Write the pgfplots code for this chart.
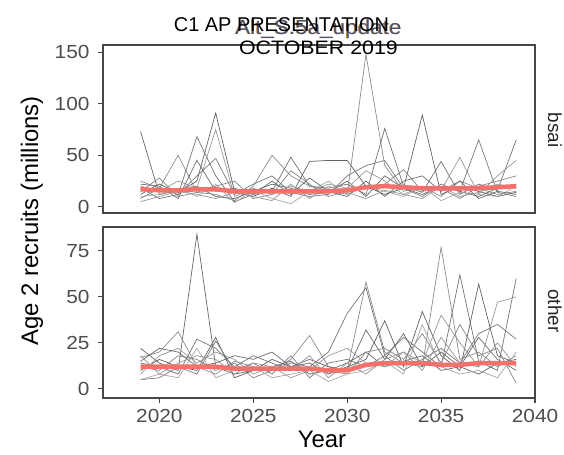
\documentclass[border=0pt]{standalone}
\usepackage{pgfplots}
\pgfplotsset{compat=1.18}
\usepackage{pgfplotstable}
\usepackage{fontspec}
\setmainfont{Liberation Sans}
\newfontfamily\wide[FakeStretch=1.1]{Liberation Sans}
\definecolor{meanred}{RGB}{244,112,106}
\definecolor{ticktxt}{RGB}{77,77,77}
\definecolor{altblue}{RGB}{70,84,118}
\definecolor{altorange}{RGB}{235,150,60}

\pgfplotstableread{
year s1 s2 s3 s4 s5 s6 s7 s8 s9 s10 m
2019 73 25 18 12 20 8 15 10 22 5 17
2020 12 18 8 22 15 18 28 12 20 10 16
2021 16 50 12 14 25 12 10 18 8 15 16
2022 20 14 68 25 18 30 14 10 45 12 17
2023 10 12 30 91 75 47 20 22 15 8 17
2024 8 6 5 15 10 12 25 4 18 14 15
2025 15 20 12 10 18 22 8 16 12 10 15
2026 22 50 15 18 12 30 12 8 25 6 15
2027 18 30 48 10 20 14 35 3 12 22 15
2028 12 20 20 44 15 10 22 15 28 8 15
2029 14 16 18 45 22 12 10 25 15 20 15
2030 25 12 22 45 18 30 15 12 10 14 16
2031 10 148 12 20 35 40 18 20 25 8 19
2032 30 40 76 12 25 45 22 15 10 16 20
2033 18 15 20 18 12 18 36 10 25 12 19
2034 12 20 14 89 20 10 15 20 30 8 18
2035 20 10 44 12 16 22 18 6 15 20 18
2036 15 25 12 20 48 15 8 14 25 10 18
2037 10 18 22 15 12 65 20 12 8 14 18
2038 18 12 16 10 30 14 25 10 15 22 19
2039 22 15 65 14 45 10 30 20 12 18 20
}\bsai

\pgfplotstableread{
year s1 s2 s3 s4 s5 s6 s7 s8 s9 s10 m
2019 22 17 14 10 8 5 12 5 15 18 12
2020 14 20 12 16 18 6 10 8 22 8 12
2021 10 31 8 12 22 12 18 6 20 14 12
2022 84 12 27 10 14 8 16 22 12 18 12
2023 12 8 22 28 20 26 10 6 14 16 12
2024 8 15 12 6 16 10 14 10 18 8 11
2025 10 12 18 10 8 14 6 12 16 14 11
2026 12 10 14 16 12 8 10 6 20 12 11
2027 15 16 10 12 6 18 14 8 12 10 11
2028 8 29 12 14 10 6 12 10 16 18 11
2029 10 12 20 8 18 14 10 4 12 6 10
2030 14 10 41 12 22 16 8 8 10 14 10
2031 20 58 55 16 14 12 20 10 32 8 13
2032 12 20 18 37 12 18 22 15 16 16 14
2033 15 14 28 12 20 10 16 8 30 20 14
2034 18 12 20 42 14 16 30 35 12 10 14
2035 10 77 12 18 40 22 14 12 20 28 13
2036 12 16 62 10 25 14 35 8 12 14 13
2037 8 20 15 57 12 30 18 10 28 12 14
2038 14 12 10 18 47 35 22 6 16 25 14
2039 16 18 60 14 50 27 3 20 10 12 14
}\other

\pgfplotsset{
  panel/.style={
    scale only axis,
    width=432bp,
    xmin=2017, xmax=2040,
    axis line style={draw=black!72, line width=1.1bp},
    tick style={draw=black!72, line width=1.1bp},
    major tick length=5bp,
    tick align=outside,
    tick pos=left,
    ticklabel style={font=\wide\fontsize{19}{19}\selectfont, text=ticktxt},
    yticklabel style={xshift=-5bp},
    xticklabel style={yshift=-3bp},
    /pgf/number format/assume math mode=true,
    clip=true,
  },
  gl/.style={line width=0.7bp, draw=#1},
}

\begin{document}
\begin{tikzpicture}[x=1bp,y=1bp]
\path[use as bounding box] (0,0) rectangle (564,455);

% top panel: bsai
\begin{axis}[panel,
  at={(103bp,242bp)}, anchor=south west,
  height=168bp,
  ymin=-6, ymax=157,
  ytick={0,50,100,150},
  xtick=\empty,
]
\addplot[gl=black!60] table[x=year,y=s1]{\bsai};
\addplot[gl=black!45] table[x=year,y=s2]{\bsai};
\addplot[gl=black!55] table[x=year,y=s3]{\bsai};
\addplot[gl=black!62] table[x=year,y=s4]{\bsai};
\addplot[gl=black!40] table[x=year,y=s5]{\bsai};
\addplot[gl=black!52] table[x=year,y=s6]{\bsai};
\addplot[gl=black!48] table[x=year,y=s7]{\bsai};
\addplot[gl=black!35] table[x=year,y=s8]{\bsai};
\addplot[gl=black!58] table[x=year,y=s9]{\bsai};
\addplot[gl=black!42] table[x=year,y=s10]{\bsai};
\addplot[meanred, line width=4.5bp] table[x=year,y=m]{\bsai};
\end{axis}

% bottom panel: other
\begin{axis}[panel,
  at={(103bp,57bp)}, anchor=south west,
  height=171bp,
  ymin=-5, ymax=88,
  ytick={0,25,50,75},
  xtick={2020,2025,2030,2035,2040},
  xticklabels={2020,2025,2030,2035,2040},
]
\addplot[gl=black!60] table[x=year,y=s1]{\other};
\addplot[gl=black!45] table[x=year,y=s2]{\other};
\addplot[gl=black!55] table[x=year,y=s3]{\other};
\addplot[gl=black!62] table[x=year,y=s4]{\other};
\addplot[gl=black!40] table[x=year,y=s5]{\other};
\addplot[gl=black!52] table[x=year,y=s6]{\other};
\addplot[gl=black!48] table[x=year,y=s7]{\other};
\addplot[gl=black!35] table[x=year,y=s8]{\other};
\addplot[gl=black!58] table[x=year,y=s9]{\other};
\addplot[gl=black!42] table[x=year,y=s10]{\other};
\addplot[meanred, line width=4.5bp] table[x=year,y=m]{\other};
\end{axis}

% strip labels
\node[rotate=-90, font=\fontsize{19}{19}\selectfont, text=black!85] at (555,325) {bsai};
\node[rotate=-90, font=\fontsize{19}{19}\selectfont, text=black!85] at (555,144) {other};

% axis titles
\node[rotate=90, font=\fontsize{24}{24}\selectfont] at (32,234) {Age 2 recruits (millions)};
\node[anchor=base, font=\fontsize{24}{24}\selectfont] at (322,7) {Year};

% titles
\node[anchor=base, font=\wide\fontsize{20.5}{20.5}\selectfont, text=altorange] at (317.8,420) {Alt\_S.5a\_update};
\node[anchor=base, font=\wide\fontsize{20.5}{20.5}\selectfont, text=altblue] at (318.5,420.7) {Alt\_S.5a\_update};
\node[anchor=base, font=\fontsize{20}{20}\selectfont] at (281.5,423.3) {C1 AP PRESENTATION};
\node[anchor=base, font=\wide\fontsize{19.5}{19.5}\selectfont] at (318.5,400) {OCTOBER 2019};
\end{tikzpicture}
\end{document}
